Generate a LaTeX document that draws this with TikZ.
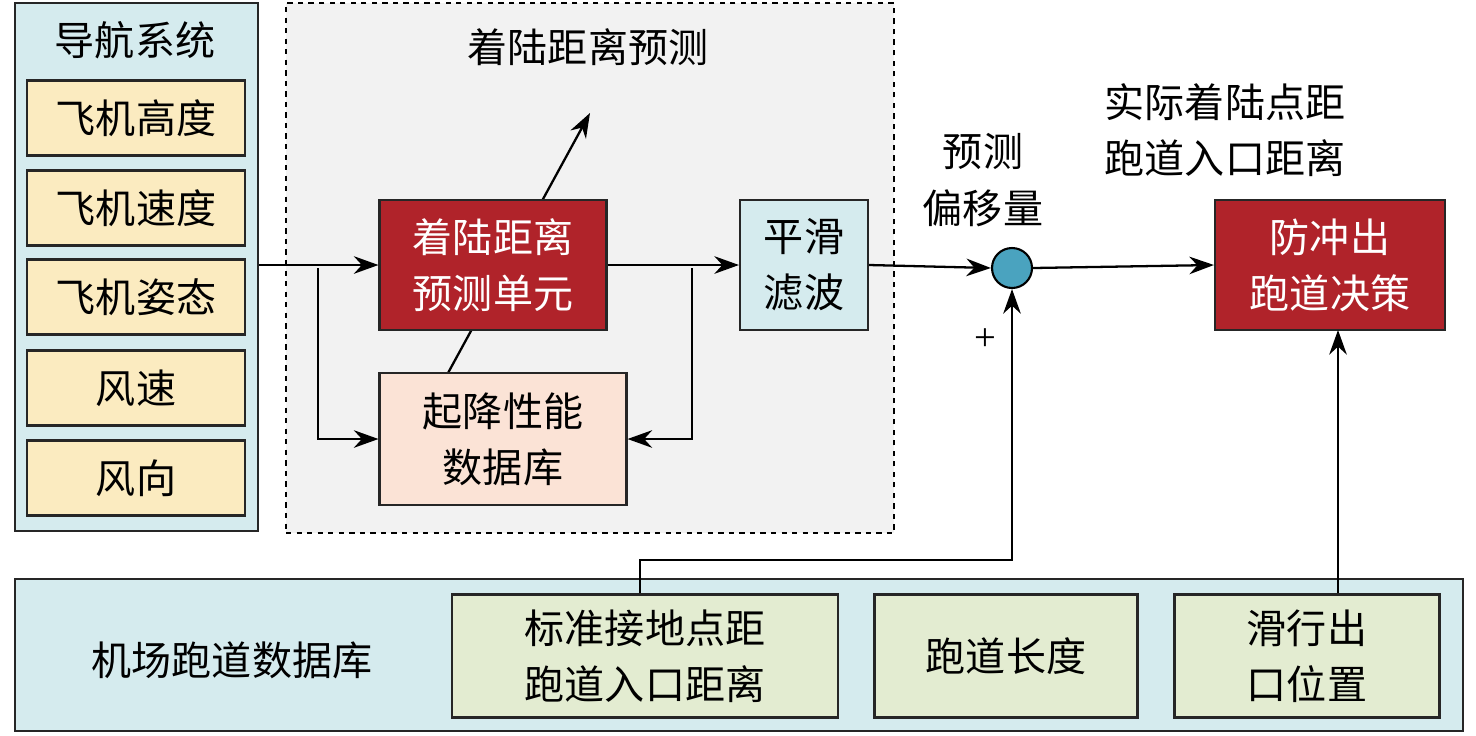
\documentclass[tikz,border=0pt]{standalone}
\usepackage{fontspec}
\setmainfont{Liberation Serif}
\newfontfamily\cjk{Noto Sans CJK SC}[Scale=0.95]
\usetikzlibrary{arrows.meta,positioning}
\definecolor{navfill}{HTML}{D5EBEE}
\definecolor{yelfill}{HTML}{FBEBC0}
\definecolor{redfill}{HTML}{B0232A}
\definecolor{pinkfill}{HTML}{FBE3D6}
\definecolor{grnfill}{HTML}{E3ECD1}
\definecolor{dotfill}{HTML}{4AA3BF}
\tikzset{
  box/.style={draw=black!85,line width=1.2pt,align=center,inner sep=0pt,font=\cjk\fontsize{24}{32}\selectfont},
  redbox/.style={box,fill=redfill,text=white},
  arr/.style={-{Stealth[length=14pt,width=10pt]},line width=1.3pt},
  ln/.style={line width=1.3pt}
}
\begin{document}
\begin{tikzpicture}[x=0.02cm,y=-0.02cm]
\useasboundingbox (0,0) rectangle (1476,735);
% outer boxes
\node[box,fill=navfill,minimum width=243*0.02cm,minimum height=528*0.02cm,anchor=north west] (nav) at (14,2) {};
\node[font=\cjk\fontsize{24}{32}\selectfont] (navt) at (135,40) {导航系统};
\node[box,draw=black,dashed,fill=black!5,minimum width=608*0.02cm,minimum height=530*0.02cm,anchor=north west] (pred) at (285,2) {};
\node[font=\cjk\fontsize{24}{32}\selectfont] (predt) at (588,47) {着陆距离预测};
\node[box,fill=navfill,minimum width=1448*0.02cm,minimum height=152*0.02cm,anchor=north west] (apt) at (14,578) {};
\node[font=\cjk\fontsize{24}{32}\selectfont] (aptt) at (232,660) {机场跑道数据库};
% navigation inputs
\foreach \y/\t [count=\i] in {118/飞机高度,208/飞机速度,297/飞机姿态,388/风速,478/风向}
  \node[box,fill=yelfill,minimum width=218*0.02cm,minimum height=75*0.02cm] (in\i) at (136,\y) {\t};
% prediction part
\coordinate (tip) at (590,113);
\coordinate (tail) at (448,373);
\draw[arr] (tail) -- (tip);
\node[redbox,minimum width=227*0.02cm,minimum height=130*0.02cm] (unit) at (493,265) {着陆距离\\预测单元};
\node[box,fill=pinkfill,minimum width=247*0.02cm,minimum height=132*0.02cm] (perf) at (503,439) {起降性能\\数据库};
\node[box,fill=navfill,minimum width=128*0.02cm,minimum height=130*0.02cm] (filt) at (804,265) {平滑\\滤波};
\node[circle,draw=black,line width=1.2pt,fill=dotfill,minimum size=40*0.02cm,inner sep=0pt] (sum) at (1012,268) {};
\node[font=\cjk\fontsize{24}{32}\selectfont,align=center] (offt) at (983,180) {预测\\偏移量};
\node[font=\cjk\fontsize{24}{32}\selectfont,align=center] (actt) at (1225,130) {实际着陆点距\\跑道入口距离};
\node[font=\fontsize{22}{26}\selectfont] (plus) at (985,340) {+};
\node[redbox,minimum width=230*0.02cm,minimum height=130*0.02cm] (dec) at (1330,265) {防冲出\\跑道决策};
% runway database
\node[box,fill=grnfill,minimum width=386*0.02cm,minimum height=123*0.02cm] (std) at (645,656) {标准接地点距\\跑道入口距离};
\node[box,fill=grnfill,minimum width=263*0.02cm,minimum height=123*0.02cm] (len) at (1006,656) {跑道长度};
\node[box,fill=grnfill,minimum width=265*0.02cm,minimum height=123*0.02cm] (exit) at (1307,656) {滑行出\\口位置};
% connectors
\coordinate (sp1) at (318,268);
\coordinate (sp2) at (692,268);
\draw[arr] (nav.east |- unit) -- (unit.west);
\draw[arr] (sp1) |- (perf.west);
\draw[arr] (unit.east) -- (filt.west);
\draw[arr] (sp2) |- (perf.east);
\draw[arr] (filt.east) -- (sum.west);
\draw[arr] (sum.east) -- (dec.west);
\coordinate (bend) at (640,560);
\draw[arr] (std.north -| bend) -- (bend) -| (sum.south);
\draw[arr] (exit.north -| 1338,0) -- (1338,330);
\end{tikzpicture}
\end{document}
